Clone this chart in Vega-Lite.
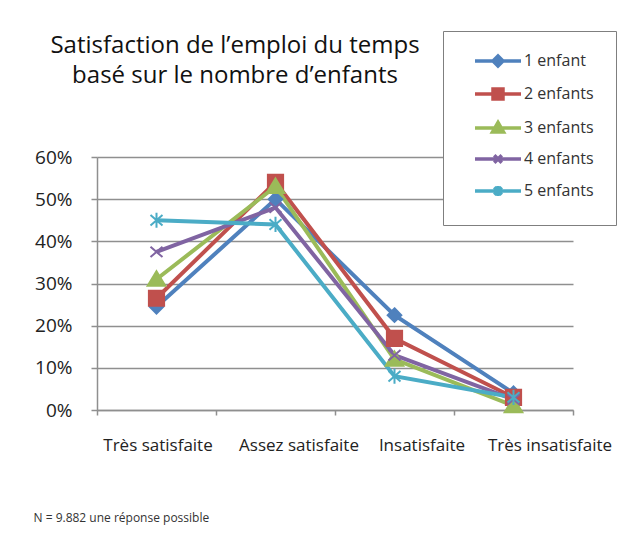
{
  "$schema": "https://vega.github.io/schema/vega-lite/v6.json",
  "autosize": "none",
  "width": 476,
  "height": 253,
  "padding": {"left": 97, "top": 157, "right": 63, "bottom": 133},
  "background": "white",
  "title": {
    "text": ["Satisfaction de l’emploi du temps", "basé sur le nombre d’enfants"],
    "font": "Open Sans",
    "fontSize": 24,
    "fontWeight": "normal",
    "color": "#111111",
    "anchor": "middle",
    "frame": "group",
    "dx": -100,
    "offset": 0,
    "dy": 57,
    "lineHeight": 30
  },
  "data": {
    "values": [
      {"serie": "1 enfant", "cat": "Très satisfaite", "v": 0.245},
      {"serie": "1 enfant", "cat": "Assez satisfaite", "v": 0.50},
      {"serie": "1 enfant", "cat": "Insatisfaite", "v": 0.225},
      {"serie": "1 enfant", "cat": "Très insatisfaite", "v": 0.04},
      {"serie": "2 enfants", "cat": "Très satisfaite", "v": 0.265},
      {"serie": "2 enfants", "cat": "Assez satisfaite", "v": 0.54},
      {"serie": "2 enfants", "cat": "Insatisfaite", "v": 0.17},
      {"serie": "2 enfants", "cat": "Très insatisfaite", "v": 0.03},
      {"serie": "3 enfants", "cat": "Très satisfaite", "v": 0.31},
      {"serie": "3 enfants", "cat": "Assez satisfaite", "v": 0.53},
      {"serie": "3 enfants", "cat": "Insatisfaite", "v": 0.12},
      {"serie": "3 enfants", "cat": "Très insatisfaite", "v": 0.01},
      {"serie": "4 enfants", "cat": "Très satisfaite", "v": 0.375},
      {"serie": "4 enfants", "cat": "Assez satisfaite", "v": 0.48},
      {"serie": "4 enfants", "cat": "Insatisfaite", "v": 0.13},
      {"serie": "4 enfants", "cat": "Très insatisfaite", "v": 0.025},
      {"serie": "5 enfants", "cat": "Très satisfaite", "v": 0.45},
      {"serie": "5 enfants", "cat": "Assez satisfaite", "v": 0.44},
      {"serie": "5 enfants", "cat": "Insatisfaite", "v": 0.08},
      {"serie": "5 enfants", "cat": "Très insatisfaite", "v": 0.03}
    ]
  },
  "encoding": {
    "x": {
      "field": "cat",
      "type": "nominal",
      "sort": ["Très satisfaite", "Assez satisfaite", "Insatisfaite", "Très insatisfaite"],
      "scale": {"type": "band", "paddingInner": 0, "paddingOuter": 0},
      "axis": {
        "title": "N = 9.882 une réponse possible",
        "titleFont": "Open Sans",
        "titleFontSize": 12,
        "titleFontWeight": "normal",
        "titleColor": "#333333",
        "titleX": -64,
        "titleY": 111,
        "titleAlign": "left",
        "titleBaseline": "alphabetic",
        "labelAngle": 0,
        "labelFont": "Open Sans",
        "labelFontSize": 17,
        "labelColor": "#222222",
        "labelPadding": 22,
        "labelOffset": {
          "condition": [
            {"test": "datum.value === 'Assez satisfaite'", "value": 23},
            {"test": "datum.value === 'Insatisfaite'", "value": 27},
            {"test": "datum.value === 'Très insatisfaite'", "value": 36}
          ],
          "value": 1
        },
        "tickBand": "extent",
        "tickSize": 5,
        "tickColor": "#8f8f8f",
        "tickWidth": 1.5,
        "domainColor": "#8f8f8f",
        "domainWidth": 1.5,
        "grid": false
      }
    },
    "y": {
      "field": "v",
      "type": "quantitative",
      "scale": {"domain": [0, 0.6], "nice": false},
      "axis": {
        "title": null,
        "values": [0, 0.1, 0.2, 0.3, 0.4, 0.5, 0.6],
        "format": ".0%",
        "labelFont": "Open Sans",
        "labelFontSize": 19,
        "labelColor": "#222222",
        "labelPadding": 19,
        "tickSize": 6,
        "tickColor": "#8f8f8f",
        "tickWidth": 1.5,
        "domainColor": "#8f8f8f",
        "domainWidth": 1.5,
        "grid": true,
        "gridColor": "#8f8f8f",
        "gridWidth": 1.5
      }
    },
    "color": {
      "field": "serie",
      "type": "nominal",
      "scale": {
        "domain": ["1 enfant", "2 enfants", "3 enfants", "4 enfants", "5 enfants"],
        "range": ["#4F81BD", "#C0504D", "#9BBB59", "#8064A2", "#4BACC6"]
      },
      "legend": {
        "title": null,
        "orient": "none",
        "legendX": 346,
        "legendY": -126,
        "fillColor": "white",
        "strokeColor": "#7f7f7f",
        "padding": 22,
        "rowPadding": 9,
        "labelFont": "Open Sans",
        "labelFontSize": 16,
        "labelColor": "#333333",
        "labelOffset": 18,
        "symbolSize": 100,
        "symbolOffset": 25,
        "symbolStrokeWidth": 3.5,
        "encode": {
          "symbols": {
            "update": {
              "shape": {"signal": "datum.value === '1 enfant' ? 'M-4.6,0H4.6M0,-1L1,0L0,1L-1,0Z' : datum.value === '2 enfants' ? 'M-4.6,0H4.6M-1,-1H1V1H-1Z' : datum.value === '3 enfants' ? 'M-4.6,0H4.6M0,-1.1L1.1,0.8H-1.1Z' : datum.value === '4 enfants' ? 'M-4.6,0H4.6M-0.75,-0.75L0.75,0.75M0.75,-0.75L-0.75,0.75' : 'M-4.6,0H4.6M-0.75,-0.75L0.75,0.75M0.75,-0.75L-0.75,0.75M0,-1V1'"},
              "fill": {"scale": "color", "field": "value"},
              "stroke": {"scale": "color", "field": "value"},
              "strokeWidth": {"value": 3.5},
              "opacity": {"value": 1}
            }
          }
        }
      }
    }
  },
  "layer": [
    {
      "mark": {"type": "line", "strokeWidth": 4}
    },
    {
      "mark": {
        "type": "point",
        "filled": true,
        "opacity": 1,
        "size": 256,
        "strokeWidth": 2,
        "shape": {"expr": "datum.serie === '1 enfant' ? 'M0,-0.85L0.85,0L0,0.85L-0.85,0Z' : datum.serie === '2 enfants' ? 'M-0.95,-0.95H0.95V0.95H-0.95Z' : datum.serie === '3 enfants' ? 'M0,-1L1.1,0.8H-1.1Z' : datum.serie === '4 enfants' ? 'M-0.75,-0.65L0.75,0.65M0.75,-0.65L-0.75,0.65' : 'M-0.75,-0.65L0.75,0.65M0.75,-0.65L-0.75,0.65M0,-0.95V0.95'"}
      },
      "encoding": {
        "stroke": {
          "field": "serie",
          "type": "nominal",
          "scale": {
            "domain": ["1 enfant", "2 enfants", "3 enfants", "4 enfants", "5 enfants"],
            "range": ["#4F81BD", "#C0504D", "#9BBB59", "#8064A2", "#4BACC6"]
          },
          "legend": null
        }
      }
    }
  ],
  "config": {
    "view": {"stroke": null}
  }
}
